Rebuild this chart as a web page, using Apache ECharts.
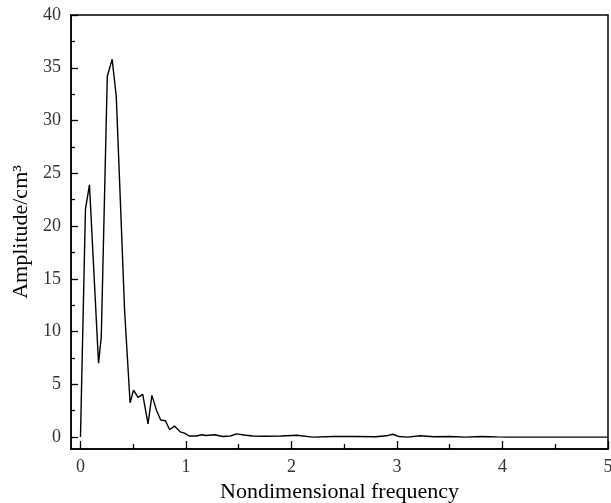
<!DOCTYPE html>
<html>
<head>
<meta charset="utf-8">
<script src="https://cdn.jsdelivr.net/npm/echarts@6/dist/echarts.min.js"></script>
<style>
  html, body { margin: 0; padding: 0; background: #fff; }
  #chart { width: 611px; height: 503px; }
</style>
</head>
<body>
<div id="chart"></div>
<script>
// 频率与幅值
var freq = [0, 0.005, 0.047, 0.085, 0.171, 0.197, 0.254, 0.300, 0.339, 0.370, 0.418, 0.470,
    0.503, 0.545, 0.590, 0.640, 0.677, 0.720, 0.760, 0.805, 0.845, 0.890, 0.945, 0.985,
    1.03, 1.10, 1.15, 1.19, 1.27, 1.35, 1.42, 1.48, 1.55, 1.63, 1.75, 1.90, 2.05, 2.20,
    2.40, 2.60, 2.80, 2.90, 2.96, 3.02, 3.10, 3.22, 3.35, 3.50, 3.65, 3.80, 3.95, 4.05, 4.50, 5.00];
var amp = [0, 2.4, 21.6, 23.9, 7.0, 9.5, 34.2, 35.8, 32.3, 24.4, 12.0, 3.25,
    4.45, 3.76, 4.05, 1.25, 3.95, 2.55, 1.62, 1.55, 0.7, 1.04, 0.5, 0.38,
    0.1, 0.1, 0.22, 0.15, 0.22, 0.05, 0.1, 0.3, 0.2, 0.1, 0.08, 0.1, 0.17, 0.0,
    0.05, 0.05, 0.03, 0.12, 0.27, 0.05, 0.0, 0.12, 0.03, 0.06, 0.0, 0.06, 0.02, 0.0, 0.0, 0.0];

var xMajor = [0, 1, 2, 3, 4, 5];
var xMinor = [0.5, 1.5, 2.5, 3.5, 4.5];
var yMajor = [0, 5, 10, 15, 20, 25, 30, 35, 40];
var yMinor = [2.5, 7.5, 12.5, 17.5, 22.5, 27.5, 32.5, 37.5];

var points = [];
for (var i = 0; i < freq.length; i++) {
    points.push([freq[i], amp[i]]);
}

var serif = 'Liberation Serif, Times New Roman, serif';
var myChart = echarts.init(document.getElementById('chart'));

function xAxisOf(ticks, len, labels) {
    return {
        type: 'value', min: -0.09, max: 5, position: 'bottom',
        axisLine: { show: labels, onZero: false, lineStyle: { color: '#000', width: 1.5 } },
        axisTick: { show: true, inside: true, length: len, customValues: ticks,
            lineStyle: { color: '#000', width: 1.3 } },
        axisLabel: { show: labels, customValues: ticks, margin: 9,
            fontFamily: serif, fontSize: 18, color: '#333' },
        splitLine: { show: false },
        name: labels ? 'Nondimensional frequency' : '',
        nameLocation: 'middle', nameGap: 30,
        nameTextStyle: { fontFamily: serif, fontSize: 22, color: '#000' }
    };
}

function yAxisOf(ticks, len, labels) {
    return {
        type: 'value', min: -1.13, max: 40, position: 'left',
        axisLine: { show: labels, onZero: false, lineStyle: { color: '#000', width: 1.5 } },
        axisTick: { show: true, inside: true, length: len, customValues: ticks,
            lineStyle: { color: '#000', width: 1.3 } },
        axisLabel: { show: labels, customValues: ticks, margin: 10,
            fontFamily: serif, fontSize: 18, color: '#333' },
        splitLine: { show: false },
        name: labels ? 'Amplitude/cm³' : '',
        nameLocation: 'middle', nameGap: 34,
        nameTextStyle: { fontFamily: serif, fontSize: 22, color: '#000' }
    };
}

var option = {
    animation: false,
    grid: {
        left: 71, right: 3, top: 15, bottom: 54,
        outerBoundsMode: 'none',
        show: true, borderColor: '#000', borderWidth: 1.5, backgroundColor: 'transparent'
    },
    xAxis: [xAxisOf(xMajor, 8, true), xAxisOf(xMinor, 5, false)],
    yAxis: [yAxisOf(yMajor, 7, true), yAxisOf(yMinor, 4, false)],
    series: [{
        type: 'line',
        xAxisIndex: 0,
        yAxisIndex: 0,
        data: points,
        showSymbol: false,
        lineStyle: { color: '#000', width: 1.4 }
    }]
};
myChart.setOption(option);
</script>
</body>
</html>
